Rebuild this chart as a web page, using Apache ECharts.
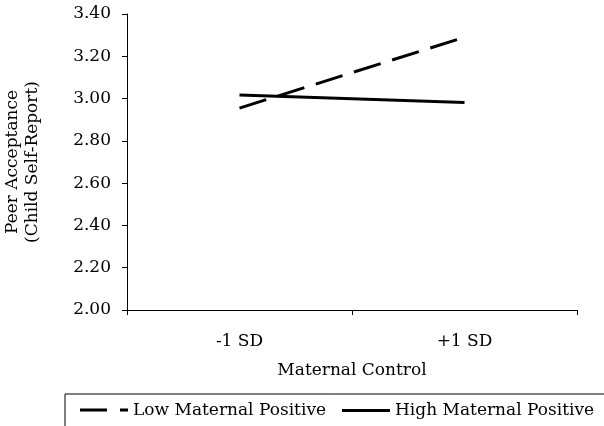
<!DOCTYPE html>
<html><head><meta charset="utf-8">
<script src="https://cdn.jsdelivr.net/npm/echarts@6/dist/echarts.min.js"></script>
<style>html,body{margin:0;padding:0;background:#fff}#c{width:604px;height:426px}</style>
</head><body><div id="c"></div>
<script>
const categories = ['-1 SD', '+1 SD'];
const lowMaternalPositive = [2.955, 3.29];
const highMaternalPositive = [3.017, 2.982];
const seriesNames = ['Low Maternal Positive', 'High Maternal Positive'];
const yTicks = { min: 2.0, max: 3.4, interval: 0.2 };

const F = 'DejaVu Serif';
const FS = 17;
const LEG_Y = 410;
const chart = echarts.init(document.getElementById('c'), null, { renderer: 'canvas' });
chart.setOption({
  animation: false,
  backgroundColor: '#fff',
  textStyle: { fontFamily: F, color: '#000' },
  grid: { left: 127, right: 27, top: 14, bottom: 116, outerBoundsMode: 'none', containLabel: false },
  xAxis: {
    type: 'category', data: categories, boundaryGap: true,
    name: 'Maternal Control', nameLocation: 'middle', nameGap: 52,
    nameTextStyle: { fontFamily: F, fontSize: FS, color: '#000' },
    axisLine: { lineStyle: { color: '#000', width: 1 } },
    axisTick: { show: true, length: 5, lineStyle: { color: '#000' } },
    axisLabel: { fontFamily: F, fontSize: FS, color: '#000', margin: 23 }
  },
  yAxis: {
    type: 'value', min: yTicks.min, max: yTicks.max, interval: yTicks.interval,
    name: 'Peer Acceptance\n(Child Self-Report)', nameLocation: 'middle', nameGap: 84,
    nameTextStyle: { fontFamily: F, fontSize: FS, color: '#000', lineHeight: 20 },
    axisLine: { show: true, lineStyle: { color: '#000', width: 1 } },
    axisTick: { show: true, length: 5, lineStyle: { color: '#000' } },
    splitLine: { show: false },
    axisLabel: { fontFamily: F, fontSize: FS, color: '#000', margin: 16,
      formatter: v => v.toFixed(2) }
  },
  legend: {
    top: 402, left: 80, padding: 0, itemWidth: 48, itemHeight: 3, itemGap: 16,
    textStyle: { fontFamily: F, fontSize: FS, color: '#000' },
    data: [
      { name: seriesNames[0], icon: 'rect', itemStyle: { opacity: 0 }, lineStyle: { width: 3, opacity: 0 } },
      { name: seriesNames[1], icon: 'rect', lineStyle: { type: 'solid', width: 3, color: '#000' } }
    ]
  },
  graphic: [
    { type: 'line', shape: { x1: 65, y1: 394, x2: 604, y2: 394 }, style: { stroke: '#000', lineWidth: 1 } },
    { type: 'line', shape: { x1: 65, y1: 394, x2: 65, y2: 426 }, style: { stroke: '#000', lineWidth: 1 } },
    { type: 'line', z: 10, shape: { x1: 80, y1: LEG_Y, x2: 128, y2: LEG_Y },
      style: { stroke: '#000', lineWidth: 3, lineDash: [27, 13] } }
  ],
  series: [
    { name: seriesNames[0], type: 'line', data: lowMaternalPositive, symbol: 'none',
      lineStyle: { color: '#000', width: 3, type: [28, 12] }, itemStyle: { color: '#000' } },
    { name: seriesNames[1], type: 'line', data: highMaternalPositive, symbol: 'none',
      lineStyle: { color: '#000', width: 3, type: 'solid' }, itemStyle: { color: '#000' } }
  ]
});
</script></body></html>
